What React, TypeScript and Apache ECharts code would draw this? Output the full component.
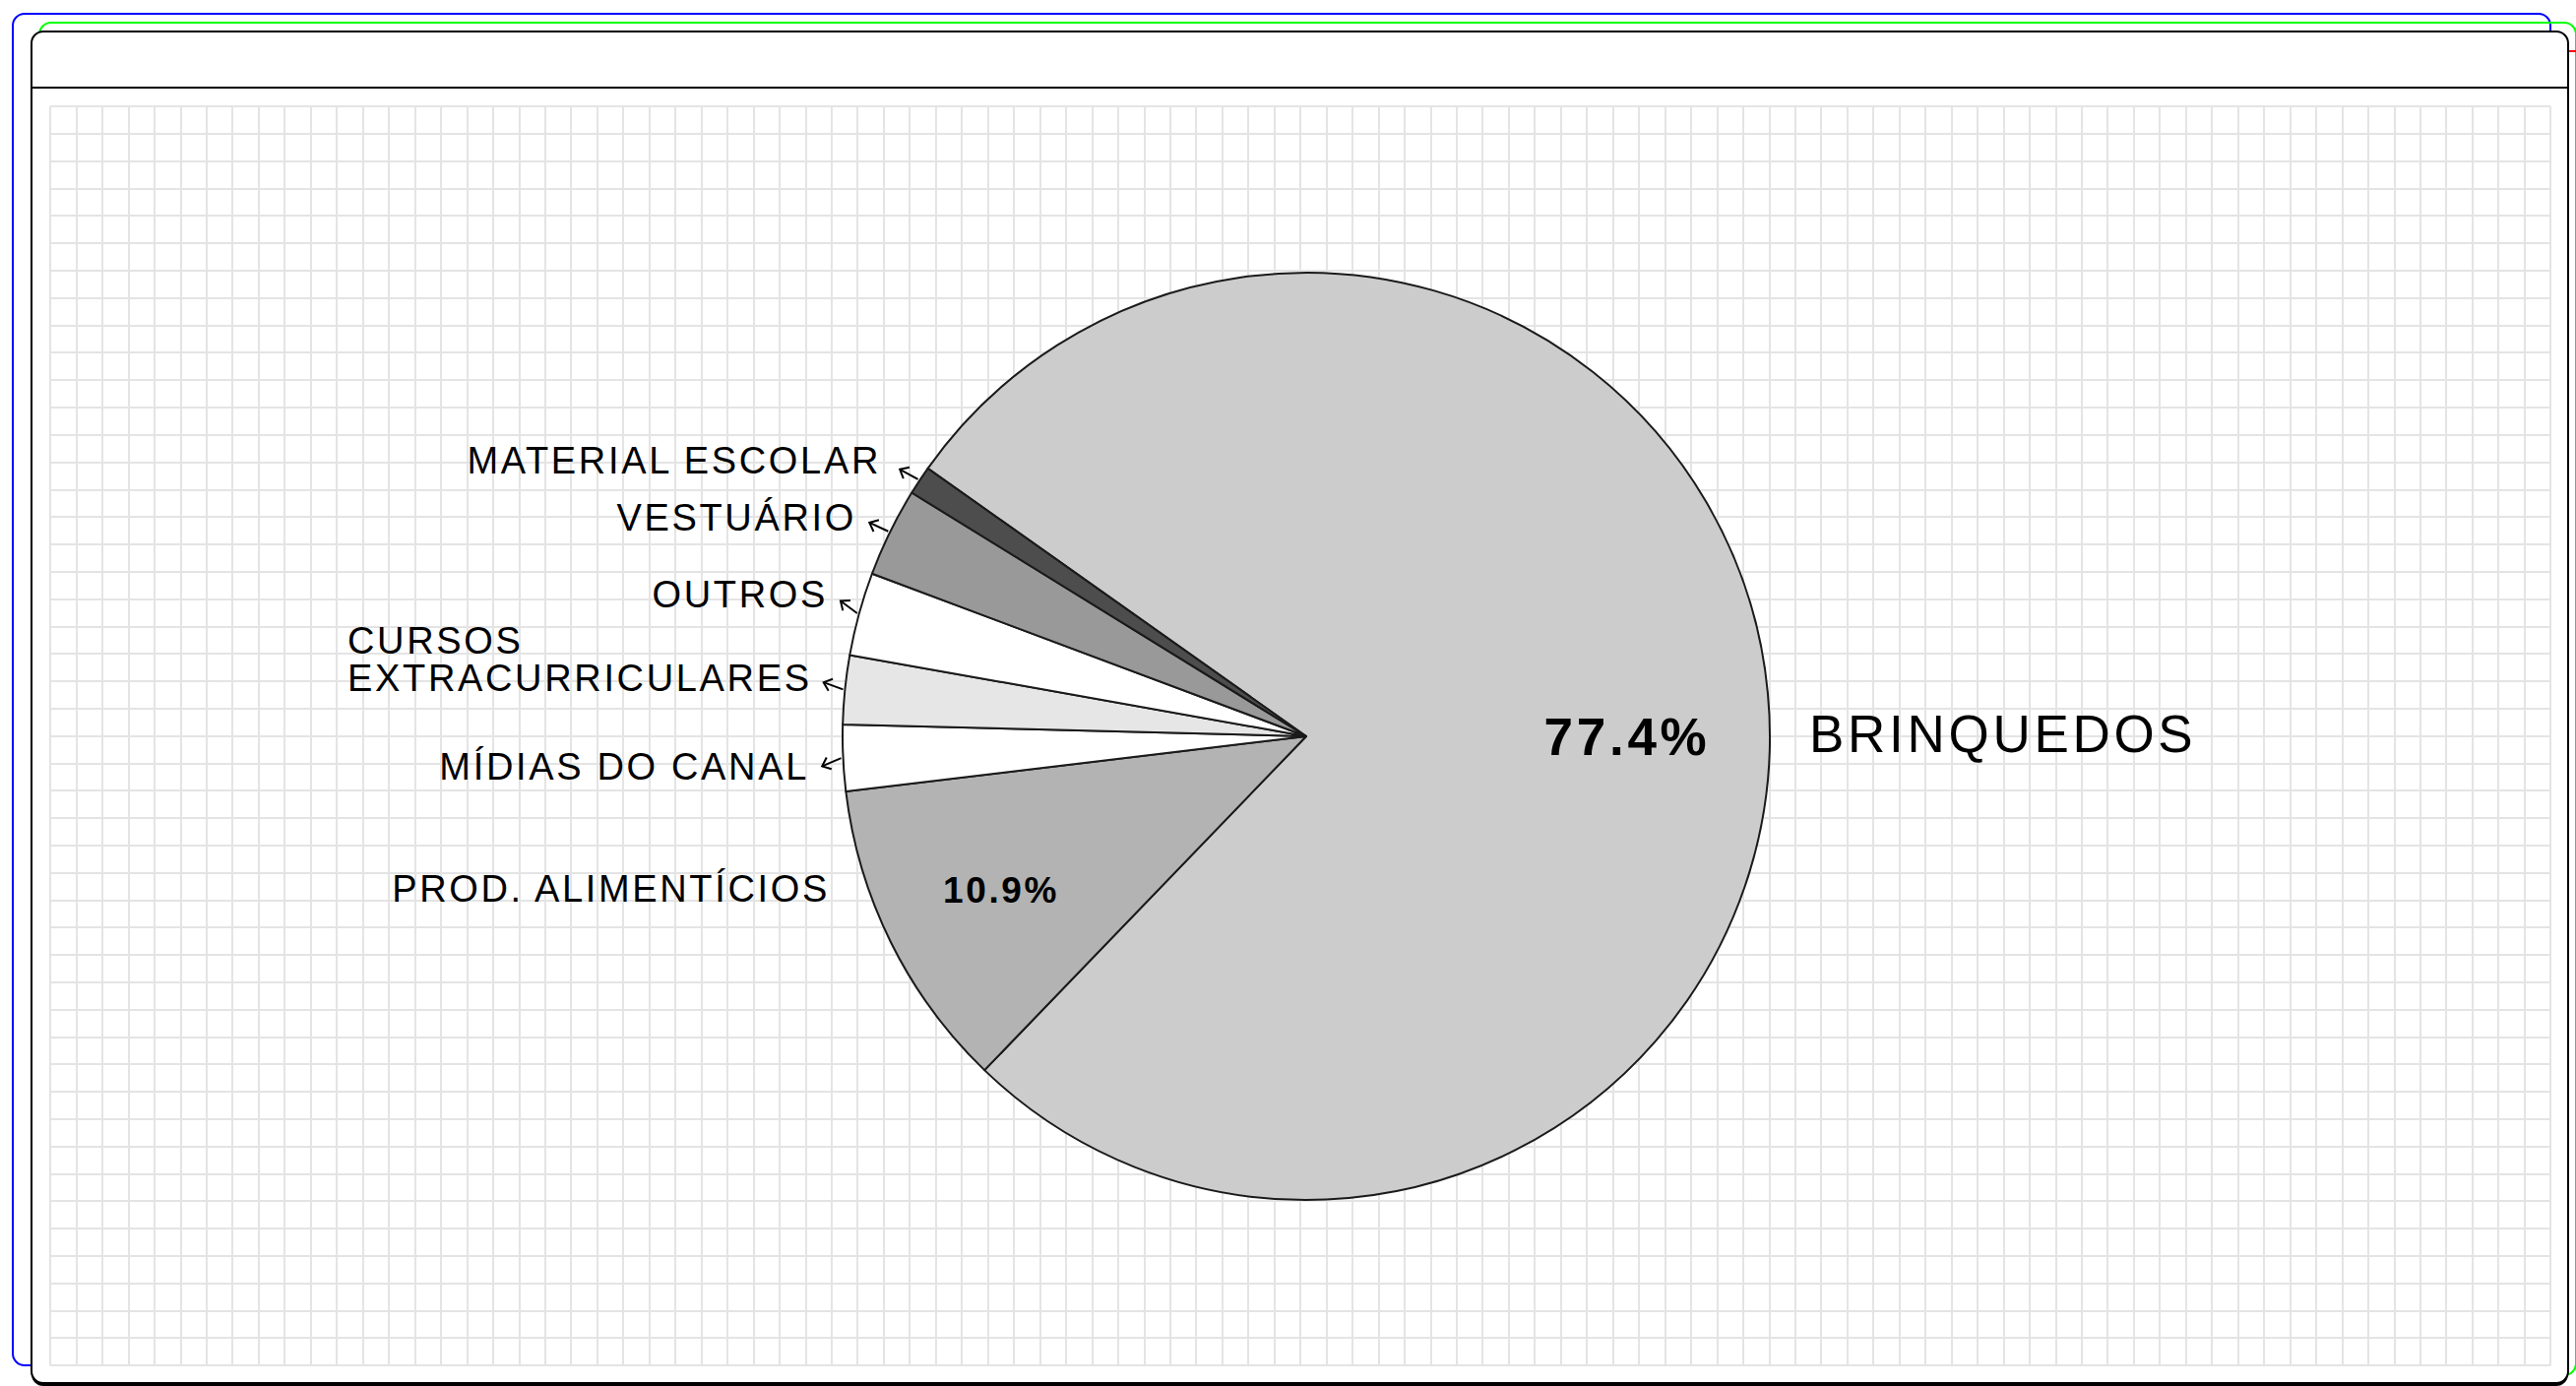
import React, { useEffect, useRef } from "react";
import * as echarts from "echarts";

// ---------------- data ----------------
const categories = [
  "BRINQUEDOS",
  "PROD. ALIMENTÍCIOS",
  "MÍDIAS DO CANAL",
  "CURSOS EXTRACURRICULARES",
  "OUTROS",
  "VESTUÁRIO",
  "MATERIAL ESCOLAR",
];
const shares = [77.4, 10.9, 2.3, 2.4, 2.9, 3.1, 1.0];
const sliceColors = ["#cccccc", "#b3b3b3", "#ffffff", "#e6e6e6", "#ffffff", "#999999", "#4d4d4d"];
const GRID_COLS = 96;
const GRID_ROWS = 46;

// ---------------- layout ----------------
const FONT = "'Liberation Sans', Arial, sans-serif";
const TEXT_COLOR = "#000000";
const CX = 1327;
const CY = 748;
const R = 471;
const START_ANGLE = 144.7;

type NameLayout = {
  x: number;
  y: number;
  align: "left" | "right";
  size: number;
  text?: string;
  arrow?: { x: number; y: number };
};

const NAME_LAYOUT: Record<string, NameLayout> = {
  "BRINQUEDOS": { x: 1838, y: 745, align: "left", size: 53 },
  "PROD. ALIMENTÍCIOS": { x: 843, y: 903, align: "right", size: 38 },
  "MÍDIAS DO CANAL": { x: 822, y: 779, align: "right", size: 38, arrow: { x: 829, y: 781 } },
  "CURSOS EXTRACURRICULARES": {
    x: 353, y: 670, align: "left", size: 38,
    text: "CURSOS\nEXTRACURRICULARES",
    arrow: { x: 828, y: 690 },
  },
  "OUTROS": { x: 841, y: 604, align: "right", size: 38, arrow: { x: 848, y: 606 } },
  "VESTUÁRIO": { x: 870, y: 526, align: "right", size: 38, arrow: { x: 877, y: 528 } },
  "MATERIAL ESCOLAR": { x: 895, y: 468, align: "right", size: 38, arrow: { x: 902, y: 470 } },
};

const PCT_LAYOUT: Record<string, { x: number; y: number; size: number }> = {
  "BRINQUEDOS": { x: 1653, y: 748, size: 53 },
  "PROD. ALIMENTÍCIOS": { x: 1017, y: 904, size: 37 },
};

function buildArrows() {
  const total = shares.reduce((a, b) => a + b, 0);
  const mids: number[] = [];
  let acc = 0;
  shares.forEach((v) => {
    const a0 = START_ANGLE - (acc / total) * 360;
    acc += v;
    const a1 = START_ANGLE - (acc / total) * 360;
    mids.push((a0 + a1) / 2);
  });
  const els: any[] = [];
  const L = 21;
  const head = 10;
  const ha = (40 * Math.PI) / 180;
  categories.forEach((name, i) => {
    const lay = NAME_LAYOUT[name];
    if (!lay || !lay.arrow) return;
    const rad = (mids[i] * Math.PI) / 180;
    const tail = [CX + (R + 2) * Math.cos(rad), CY - (R + 2) * Math.sin(rad)];
    let dx = lay.arrow.x - tail[0];
    let dy = lay.arrow.y - tail[1];
    const len = Math.hypot(dx, dy);
    dx /= len;
    dy /= len;
    const tip = [tail[0] + dx * L, tail[1] + dy * L];
    const bx = -dx;
    const by = -dy;
    const h1 = [
      tip[0] + head * (bx * Math.cos(ha) - by * Math.sin(ha)),
      tip[1] + head * (bx * Math.sin(ha) + by * Math.cos(ha)),
    ];
    const h2 = [
      tip[0] + head * (bx * Math.cos(-ha) - by * Math.sin(-ha)),
      tip[1] + head * (bx * Math.sin(-ha) + by * Math.cos(-ha)),
    ];
    els.push({
      type: "polyline",
      z: 20,
      silent: true,
      shape: { points: [tail, tip] },
      style: { stroke: TEXT_COLOR, lineWidth: 2, fill: "none" },
    });
    els.push({
      type: "polyline",
      z: 20,
      silent: true,
      shape: { points: [h1, tip, h2] },
      style: { stroke: TEXT_COLOR, lineWidth: 2, fill: "none", lineJoin: "miter" },
    });
  });
  return els;
}

function buildFrames() {
  return [
    {
      type: "rect", z: 0, silent: true,
      shape: { x: 13, y: 14, width: 2578, height: 1373, r: 12 },
      style: { fill: "none", stroke: "#0000ff", lineWidth: 2 },
    },
    {
      type: "rect", z: 0, silent: true,
      shape: { x: 40, y: 23, width: 2577, height: 1374, r: 12 },
      style: { fill: "none", stroke: "#00ff00", lineWidth: 2 },
    },
    {
      type: "rect", z: 0, silent: true,
      shape: { x: 60, y: 52, width: 2570, height: 1420, r: 12 },
      style: { fill: "none", stroke: "#ff0000", lineWidth: 2 },
    },
    {
      type: "rect", z: 0, silent: true,
      shape: { x: 32, y: 35, width: 2577, height: 1373, r: 12 },
      style: { fill: "#000000" },
    },
    {
      type: "rect", z: 0, silent: true,
      shape: { x: 32, y: 32, width: 2577, height: 1373, r: 12 },
      style: { fill: "#ffffff", stroke: "#000000", lineWidth: 2 },
    },
    {
      type: "line", z: 0, silent: true,
      shape: { x1: 32, y1: 89, x2: 2609, y2: 89 },
      style: { stroke: "#000000", lineWidth: 2 },
    },
  ];
}

function buildOption() {
  const dataNames = categories.map((name, i) => ({
    name,
    value: shares[i],
    itemStyle: { color: sliceColors[i] },
    label: { fontSize: NAME_LAYOUT[name].size, lineHeight: NAME_LAYOUT[name].size },
  }));
  const dataPct = categories.map((name, i) => ({
    name,
    value: shares[i],
    label: PCT_LAYOUT[name]
      ? { show: true, fontSize: PCT_LAYOUT[name].size, lineHeight: PCT_LAYOUT[name].size }
      : { show: false },
  }));

  const axisCommon = {
    type: "value",
    interval: 1,
    z: 1,
    axisLine: { show: false },
    axisTick: { show: false },
    axisLabel: { show: false },
    splitLine: { show: true, lineStyle: { color: "#e4e4e4", width: 2 } },
  };

  return {
    animation: false,
    backgroundColor: "#ffffff",
    textStyle: { fontFamily: FONT },
    graphic: { elements: [...buildFrames(), ...buildArrows()] },
    grid: { left: 51, top: 108, width: 2540, height: 1279, show: false },
    xAxis: { ...axisCommon, min: 0, max: GRID_COLS },
    yAxis: { ...axisCommon, min: 0, max: GRID_ROWS },
    series: [
      { type: "line", data: [], silent: true },
      {
        type: "pie",
        z: 2,
        center: [CX, CY],
        radius: R,
        startAngle: START_ANGLE,
        clockwise: true,
        avoidLabelOverlap: false,
        silent: true,
        emphasis: { disabled: true },
        itemStyle: { borderColor: "#1a1a1a", borderWidth: 2 },
        label: {
          show: true,
          position: "outside",
          color: TEXT_COLOR,
          fontFamily: FONT,
          formatter: (p: any) => NAME_LAYOUT[p.name].text ?? p.name,
        },
        labelLine: { show: false },
        labelLayout: (p: any) => {
          const lay = NAME_LAYOUT[categories[p.dataIndex]];
          return { x: lay.x, y: lay.y, align: lay.align, verticalAlign: "middle" };
        },
        data: dataNames,
      },
      {
        type: "pie",
        z: 3,
        center: [CX, CY],
        radius: R,
        startAngle: START_ANGLE,
        clockwise: true,
        avoidLabelOverlap: false,
        silent: true,
        emphasis: { disabled: true },
        itemStyle: { color: "rgba(0,0,0,0)", borderWidth: 0 },
        label: {
          position: "inside",
          color: "#000000",
          fontFamily: FONT,
          fontWeight: "bold",
          formatter: (p: any) => `${Number(p.value).toFixed(1)}%`,
        },
        labelLine: { show: false },
        labelLayout: (p: any) => {
          const lay = PCT_LAYOUT[categories[p.dataIndex]];
          if (!lay) return {};
          return { x: lay.x, y: lay.y, align: "center", verticalAlign: "middle" };
        },
        data: dataPct,
      },
    ],
  };
}

export default function App() {
  const ref = useRef<HTMLDivElement>(null);
  useEffect(() => {
    if (!ref.current) return;
    const chart = echarts.init(ref.current, null, { renderer: "svg" });
    chart.setOption(buildOption() as any);
    return () => chart.dispose();
  }, []);
  return (
    <>
      <style>{`#chart-root text { letter-spacing: 0.07em; }`}</style>
      <div
        id="chart-root"
        ref={ref}
        style={{ position: "fixed", left: 0, top: 0, width: 2617, height: 1408, background: "#ffffff" }}
      />
    </>
  );
}
